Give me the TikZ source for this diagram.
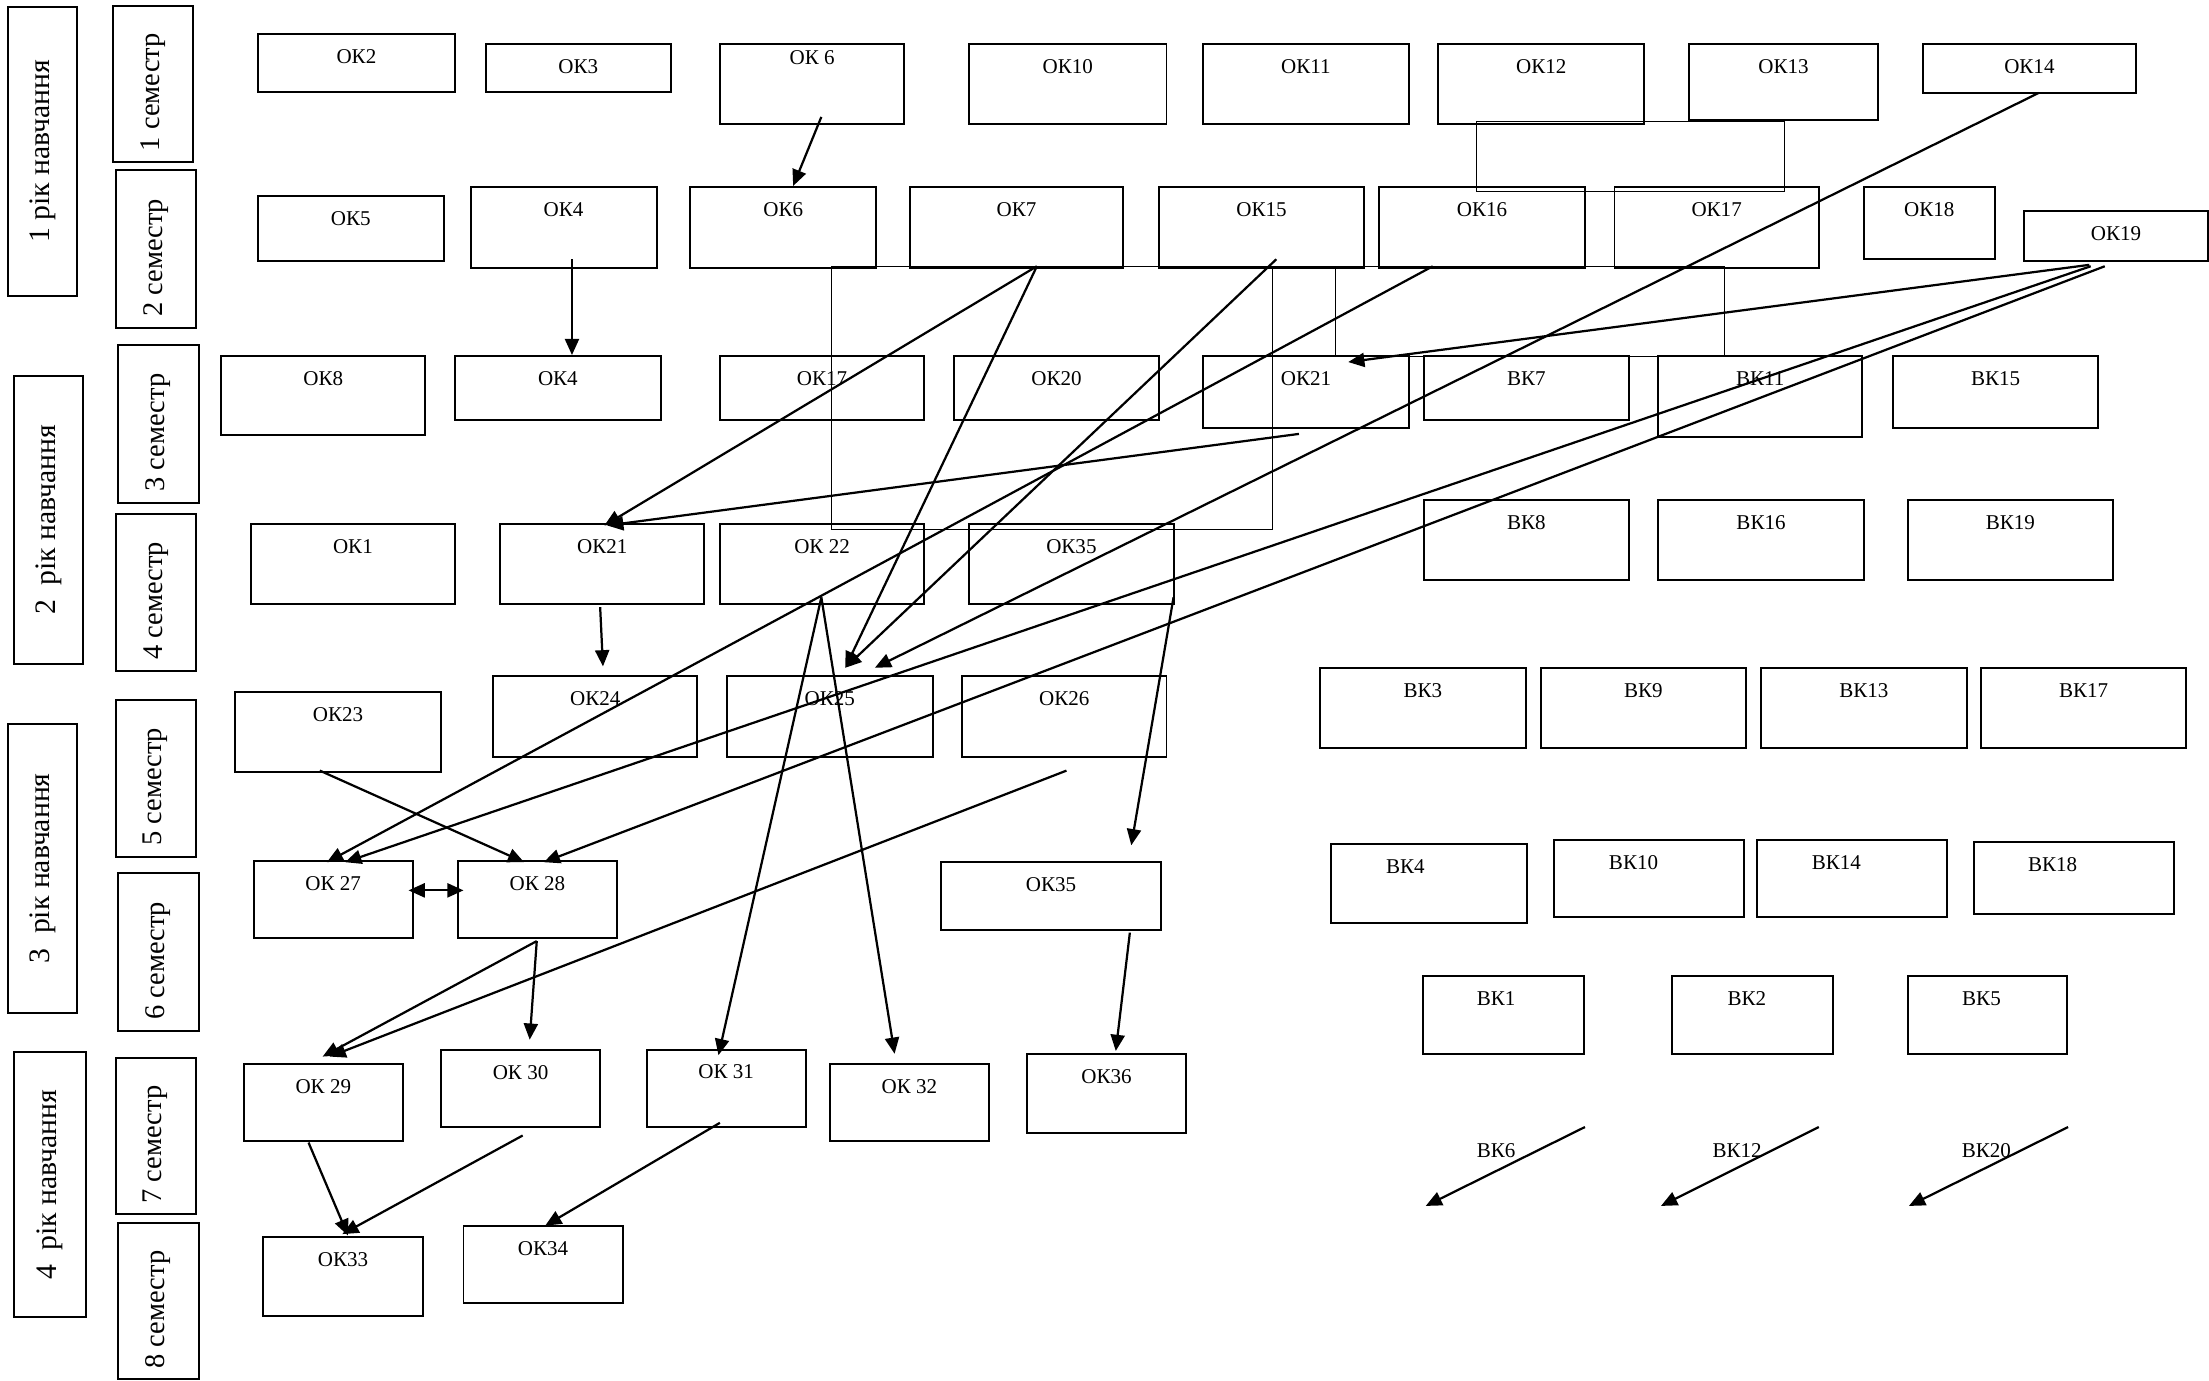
\documentclass[tikz,border=0pt]{standalone}
\usepackage{fontspec}
\setmainfont{Liberation Serif}
\usetikzlibrary{arrows.meta, calc}

% box with its caption near the top: [caption opts]{name}{x1}{y1}{x2}{y2}{text}
\newcommand{\kbox}[7][]{%
	\node[kb, minimum width={(#5-#3)*0.2mm}, minimum height={(#6-#4)*0.2mm}]
		(#2) at ({(#3+#5)/2},{-(#4+#6)/2}) {};
	\node[kt, #1] (#2-t) at ({(#3+#5)/2},{-(#4+16)}) {#7};}

\begin{document}
\begin{tikzpicture}[x=0.2mm, y=0.2mm,
	kb/.style={draw, line width=0.8pt, inner sep=0pt, outer sep=0pt},
	kt/.style={inner sep=0pt, font=\fontsize{8.5}{10}\selectfont},
	semb/.style={draw, line width=0.8pt, rotate=90, inner sep=0pt, font=\fontsize{11.5}{13}\selectfont},
	yrb/.style={draw, line width=0.8pt, rotate=90, inner sep=0pt, font=\fontsize{12}{14}\selectfont},
	ar/.style={-{Triangle[length=2.3mm, width=2mm]}, line width=0.9pt},
	dar/.style={{Triangle[length=2.3mm, width=2mm]}-{Triangle[length=2.3mm, width=2mm]}, line width=0.9pt},
	grp/.style={line width=0.4pt}]

	\useasboundingbox (0,0) rectangle (1568,-980);

	% years and semesters
	\node[yrb, minimum width=205*0.2mm, minimum height=49*0.2mm] (yr1) at (30.5,-107.5) {1 рік навчання};
	\node[yrb, minimum width=204*0.2mm, minimum height=49*0.2mm] (yr2) at (34.5,-369) {2\ \ рік навчання};
	\node[yrb, minimum width=205*0.2mm, minimum height=49*0.2mm] (yr3) at (30.5,-616.5) {3\ \ рік навчання};
	\node[yrb, minimum width=188*0.2mm, minimum height=51*0.2mm] (yr4) at (35.5,-841) {4\ \ рік навчання};

	\node[semb, minimum width=111*0.2mm, minimum height=57*0.2mm] (sem1) at (108.5,-59.5) {1 семестр\hspace*{2.4mm}};
	\node[semb, minimum width=112*0.2mm, minimum height=57*0.2mm] (sem2) at (110.5,-177) {2 семестр\hspace*{2.4mm}};
	\node[semb, minimum width=112*0.2mm, minimum height=57*0.2mm] (sem3) at (112.5,-301) {3 семестр\hspace*{2.4mm}};
	\node[semb, minimum width=111*0.2mm, minimum height=57*0.2mm] (sem4) at (110.5,-420.5) {4 семестр\hspace*{2.4mm}};
	\node[semb, minimum width=111*0.2mm, minimum height=57*0.2mm] (sem5) at (110.5,-552.5) {5 семестр\hspace*{2.4mm}};
	\node[semb, minimum width=112*0.2mm, minimum height=57*0.2mm] (sem6) at (112.5,-676) {6 семестр\hspace*{2.4mm}};
	\node[semb, minimum width=111*0.2mm, minimum height=57*0.2mm] (sem7) at (110.5,-806.5) {7 семестр\hspace*{2.4mm}};
	\node[semb, minimum width=111*0.2mm, minimum height=57*0.2mm] (sem8) at (112.5,-923.5) {8 семестр\hspace*{2.4mm}};

	% semester 1
	\kbox{ok2}{183}{24}{323}{65}{ОК2}
	\kbox{ok3}{345}{31}{476}{65}{ОК3}
	\kbox[yshift=1.2mm]{ok6a}{511}{31}{642}{88}{ОК 6}
	\kbox{ok10}{688}{31}{828}{88}{ОК10}
	\kbox{ok11}{854}{31}{1000}{88}{ОК11}
	\kbox{ok12}{1021}{31}{1167}{88}{ОК12}
	\kbox{ok13}{1199}{31}{1333}{85}{ОК13}
	\kbox{ok14}{1365}{31}{1516}{66}{ОК14}

	% semester 2
	\kbox{ok5}{183}{139}{315}{185}{ОК5}
	\kbox{ok4a}{334}{133}{466}{190}{ОК4}
	\kbox{ok6b}{490}{133}{622}{190}{ОК6}
	\kbox{ok7}{646}{133}{797}{190}{ОК7}
	\kbox{ok15}{823}{133}{968}{190}{ОК15}
	\kbox{ok16}{979}{133}{1125}{190}{ОК16}
	\kbox{ok17a}{1146}{133}{1291}{190}{ОК17}
	\kbox{ok18}{1323}{133}{1416}{184}{ОК18}
	\kbox{ok19}{1437}{150}{1567}{185}{ОК19}

	% semester 3
	\kbox{ok8}{157}{253}{302}{309}{ОК8}
	\kbox{ok4b}{323}{253}{469}{298}{ОК4}
	\kbox{ok17b}{511}{253}{656}{298}{ОК17}
	\kbox{ok20}{677}{253}{823}{298}{ОК20}
	\kbox{ok21a}{854}{253}{1000}{304}{ОК21}
	\kbox{bk7}{1011}{253}{1156}{298}{ВК7}
	\kbox{bk11}{1177}{253}{1322}{310}{ВК11}
	\kbox{bk15}{1344}{253}{1489}{304}{ВК15}

	% semester 4
	\kbox{ok1}{178}{372}{323}{429}{ОК1}
	\kbox{ok21b}{355}{372}{500}{429}{ОК21}
	\kbox{ok22}{511}{372}{656}{429}{ОК 22}
	\kbox{ok35a}{688}{372}{833}{429}{ОК35}
	\kbox{bk8}{1011}{355}{1156}{412}{ВК8}
	\kbox{bk16}{1177}{355}{1323}{412}{ВК16}
	\kbox{bk19}{1354}{355}{1500}{412}{ВК19}

	% semester 5
	\kbox{ok23}{167}{491}{313}{548}{ОК23}
	\kbox{ok24}{350}{480}{495}{537}{ОК24}
	\kbox{ok25}{516}{480}{662}{537}{ОК25}
	\kbox{ok26}{683}{480}{828}{537}{ОК26}
	\kbox{bk3}{937}{474}{1083}{531}{ВК3}
	\kbox{bk9}{1094}{474}{1239}{531}{ВК9}
	\kbox{bk13}{1250}{474}{1396}{531}{ВК13}
	\kbox{bk17}{1406}{474}{1552}{531}{ВК17}

	% semester 6
	\kbox{ok27}{180}{611}{293}{666}{ОК 27}
	\kbox{ok28}{325}{611}{438}{666}{ОК 28}
	\kbox{ok35b}{668}{612}{824}{660}{ОК35}
	\kbox[xshift=-3.4mm]{bk4}{945}{599}{1084}{655}{ВК4}
	\kbox[xshift=-2.2mm]{bk10}{1103}{596}{1238}{651}{ВК10}
	\kbox[xshift=-2.2mm]{bk14}{1247}{596}{1382}{651}{ВК14}
	\kbox[xshift=-3mm]{bk18}{1401}{598}{1543}{649}{ВК18}

	% semester 7
	\kbox{ok29}{173}{755}{286}{810}{ОК 29}
	\kbox{ok30}{313}{745}{426}{800}{ОК 30}
	\kbox{ok31}{459}{745}{572}{800}{ОК 31}
	\kbox{ok32}{589}{755}{702}{810}{ОК 32}
	\kbox{ok36}{729}{748}{842}{804}{ОК36}
	\kbox[xshift=-1mm]{bk1}{1010}{693}{1124}{748}{ВК1}
	\kbox[xshift=-0.8mm]{bk2}{1187}{693}{1301}{748}{ВК2}
	\kbox[xshift=-0.8mm]{bk5}{1354}{693}{1467}{748}{ВК5}

	% semester 8
	\kbox{ok33}{187}{878}{300}{934}{ОК33}
	\kbox{ok34}{329}{870}{442}{925}{ОК34}

	\node[kt] (bk6) at (1062,-817) {ВК6};
	\node[kt] (bk12) at (1233,-817) {ВК12};
	\node[kt] (bk20) at (1410,-817) {ВК20};

	% thin grouping lines
	\draw[grp] (1048,-86) rectangle (1267,-136);
	\draw[grp] (590,-376) -- (590,-189) -- (1224,-189) -- (1224,-253);
	\draw[grp] (903,-189) -- (903,-376) -- (590,-376);
	\draw[grp] (948,-189) -- (948,-253);
	\draw[grp] (1000,-253) -- (1177,-253);

	% arrows
	\draw[ar] ($(ok6a.south)+(6.5,5)$) -- ($(ok6b.north)+(7,1)$);
	\draw[ar] ($(ok4a.south)+(6,6)$) -- ($(ok4b.north)+(10,1)$);
	\draw[ar] ($(ok7.south)+(14.5,1)$) -- ($(ok21b.north)+(1.5,-1)$);
	\draw[ar] ($(ok7.south)+(14.5,1)$) -- ($(ok25.north)+(11,6)$);
	\draw[ar] ($(ok15.south)+(10.5,6)$) -- ($(ok25.north)+(11,6)$);
	\draw[ar] ($(ok14.south)+(6.5,0)$) -- ($(ok25.north)+(32,6)$);
	\draw[ar] ($(ok16.south)+(-35,1)$) -- ($(ok27.north)+(-4.5,-1)$);
	\draw[ar] ($(ok19.south)+(-19,-3)$) -- ($(ok21a.north)+(30,-4)$);
	\draw[ar] ($(ok19.south)+(-18,-4)$) -- ($(ok27.north)+(8.5,-1)$);
	\draw[ar] ($(ok19.south)+(-8,-4)$) -- ($(ok28.north)+(4.5,-1)$);
	\draw[ar] ($(ok21a.south)+(-5,-4)$) -- ($(ok21b.north)+(3.5,-1)$);
	\draw[ar] ($(ok21b.south)+(-1.5,-2)$) -- ($(ok24.north)+(5.5,7)$);
	\draw[ar] ($(ok22.south)+(-0.5,5)$) -- ($(ok31.north)+(-5.5,-4)$);
	\draw[ar] ($(ok22.south)+(-0.5,5)$) -- ($(ok32.north)+(-10.5,7)$);
	\draw[ar] ($(ok35a.south east)+(0,5)$) -- ($(ok35b.north)+(57,12)$);
	\draw[ar] ($(ok35b.south)+(56,-2)$) -- ($(ok36.north)+(6.5,2)$);
	\draw[ar] ($(ok23.south)+(-13,1)$) -- ($(ok28.north)+(-9.5,-1)$);
	\draw[ar] ($(ok26.south)+(1.5,-10)$) -- ($(ok29.north)+(4.5,5)$);
	\draw[dar] ($(ok27.east)+(-3,6.5)$) -- ($(ok28.west)+(4,6.5)$);
	\draw[ar] ($(ok28.south)+(-0.5,-2)$) -- ($(ok29.north)+(-0.5,5)$);
	\draw[ar] ($(ok28.south)+(-0.5,-2)$) -- ($(ok30.north)+(6.5,7)$);
	\draw[ar] ($(ok29.south)+(-10.5,-1)$) -- ($(ok33.north)+(3.5,1)$);
	\draw[ar] ($(ok30.south)+(1.5,-6)$) -- ($(ok33.north)+(-0.5,2)$);
	\draw[ar] ($(ok31.south)+(-4.5,3)$) -- ($(ok34.north)+(1.5,0)$);

	\coordinate (bk6s) at ($(bk6)+(63,17)$);
	\coordinate (bk6e) at ($(bk6)+(-50,-39)$);
	\coordinate (bk12s) at ($(bk12)+(58,17)$);
	\coordinate (bk12e) at ($(bk12)+(-54,-39)$);
	\coordinate (bk20s) at ($(bk20)+(58,17)$);
	\coordinate (bk20e) at ($(bk20)+(-55,-39)$);
	\draw[ar] (bk6s) -- (bk6e);
	\draw[ar] (bk12s) -- (bk12e);
	\draw[ar] (bk20s) -- (bk20e);
\end{tikzpicture}
\end{document}
